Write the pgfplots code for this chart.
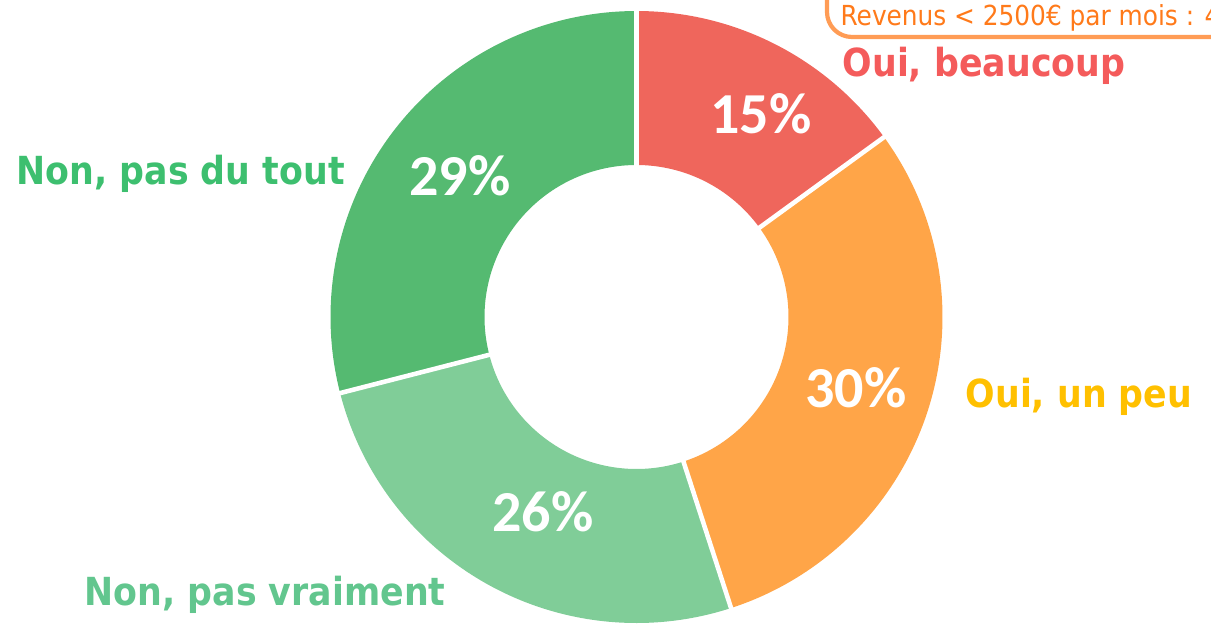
\documentclass[border=0pt]{standalone}
\usepackage{pgfplots}
\pgfplotsset{compat=1.18}
\usepackage{pgfplotstable}
\usepackage{fontspec}
\IfFontExistsTF{DejaVu Sans Condensed}{\newfontfamily\lab{DejaVu Sans Condensed}}{\newfontfamily\lab[FakeStretch=0.9]{DejaVu Sans}}
\newfontfamily\pct{Carlito}
\setmainfont{Carlito}

\definecolor{sRed}{HTML}{EF665C}
\definecolor{sOrange}{HTML}{FFA548}
\definecolor{sLGreen}{HTML}{80CD98}
\definecolor{sGreen}{HTML}{55BA71}
\definecolor{tRed}{HTML}{F45B5B}
\definecolor{tGold}{HTML}{FFC000}
\definecolor{tGreen}{HTML}{3DBF6F}
\definecolor{tLGreen}{HTML}{62C68E}
\definecolor{bOrange}{HTML}{FF9C55}
\definecolor{tOrange}{HTML}{FF7A1A}

\pgfplotstableread{
pct
15
30
26
29
}\piedata

\pgfplotstablegetelem{0}{pct}\of\piedata \let\va\pgfplotsretval
\pgfplotstablegetelem{1}{pct}\of\piedata \let\vb\pgfplotsretval
\pgfplotstablegetelem{2}{pct}\of\piedata \let\vc\pgfplotsretval
\pgfplotstablegetelem{3}{pct}\of\piedata \let\vd\pgfplotsretval

\pgfmathsetmacro\aA{90}
\pgfmathsetmacro\aB{\aA-3.6*\va}
\pgfmathsetmacro\aC{\aB-3.6*\vb}
\pgfmathsetmacro\aD{\aC-3.6*\vc}
\pgfmathsetmacro\aE{\aD-3.6*\vd}

\def\cx{6.365}
\def\cy{3.17}
\def\ro{3.06}
\def\ri{1.52}

\newcommand\slice[3]{%
  \fill[#1] (axis cs:{\cx+\ro*cos(#2)},{\cy+\ro*sin(#2)})
    arc[start angle=#2, end angle=#3, radius=\ro cm]
    -- (axis cs:{\cx+\ri*cos(#3)},{\cy+\ri*sin(#3)})
    arc[start angle=#3, end angle=#2, radius=\ri cm] -- cycle;}
\newcommand\sep[1]{%
  \draw[white, line width=1.3pt] (axis cs:{\cx+(\ri-0.02)*cos(#1)},{\cy+(\ri-0.02)*sin(#1)})
    -- (axis cs:{\cx+(\ro+0.02)*cos(#1)},{\cy+(\ro+0.02)*sin(#1)});}

\begin{document}
\begin{tikzpicture}
\useasboundingbox (0,0) rectangle (12.11,6.34);
\begin{axis}[
  at={(0,0)}, anchor=south west,
  x=1cm, y=1cm, scale only axis,
  xmin=0, xmax=12.11, ymin=0, ymax=6.34,
  hide axis, clip=false,
]
\slice{sRed}{\aA}{\aB}
\slice{sOrange}{\aB}{\aC}
\slice{sLGreen}{\aC}{\aD}
\slice{sGreen}{\aD}{\aE}
\sep{\aA}
\sep{\aB}
\sep{\aC}
\sep{\aD}

\node[white, font=\pct\bfseries\fontsize{16.5}{16.5}\selectfont] at (axis cs:7.61,5.20) {\va\%};
\node[white, font=\pct\bfseries\fontsize{16.5}{16.5}\selectfont] at (axis cs:8.56,2.46) {\vb\%};
\node[white, font=\pct\bfseries\fontsize{16.5}{16.5}\selectfont] at (axis cs:5.43,1.22) {\vc\%};
\node[white, font=\pct\bfseries\fontsize{16.5}{16.5}\selectfont] at (axis cs:4.60,4.58) {\vd\%};

\node[tRed, anchor=base west, inner sep=0pt, font=\lab\bfseries\fontsize{11}{11}\selectfont] at (axis cs:8.42,5.57) {Oui, beaucoup};
\node[tGold, anchor=base west, inner sep=0pt, font=\lab\bfseries\fontsize{11}{11}\selectfont] at (axis cs:9.65,2.27) {Oui, un peu};
\node[tGreen, anchor=base west, inner sep=0pt, font=\lab\bfseries\fontsize{11}{11}\selectfont] at (axis cs:0.16,4.50) {Non, pas du tout};
\node[tLGreen, anchor=base west, inner sep=0pt, font=\lab\bfseries\fontsize{11}{11}\selectfont] at (axis cs:0.84,0.29) {Non, pas vraiment};

\draw[bOrange, line width=1.2pt, rounded corners=2.5mm, fill=white] (axis cs:8.27,5.97) rectangle (axis cs:12.8,6.8);
\node[tOrange, anchor=base west, inner sep=0pt, font=\lab\fontsize{7.85}{7.85}\selectfont] at (axis cs:8.40,6.08) {Revenus < 2500€ par mois : 44\%};
\end{axis}
\end{tikzpicture}
\end{document}
